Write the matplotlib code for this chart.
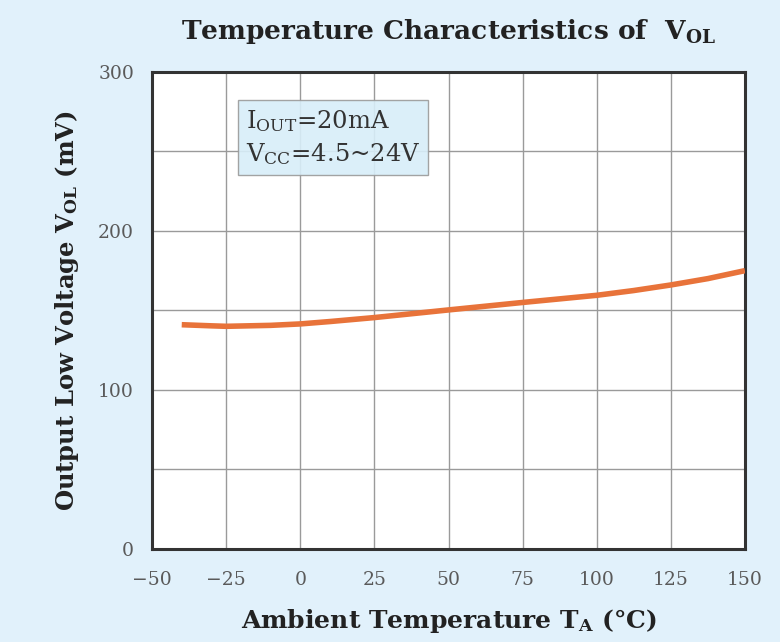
import matplotlib
matplotlib.use("Agg")
import matplotlib.pyplot as plt
import numpy as np

plt.rcParams['font.family'] = ['DejaVu Serif']
plt.rcParams['mathtext.fontset'] = 'dejavuserif'

# data
temp = [-40, -30, -25, -10, 0, 10, 25, 50, 75, 100, 112.5, 125, 137.5, 150]
vol = [141, 140.3, 140, 140.6, 141.5, 143, 145.5, 150.3, 155, 159.5, 162.5, 166, 170, 175]

xticks = [-50, -25, 0, 25, 50, 75, 100, 125, 150]
yticks = [0, 100, 200, 300]

bg = '#e1f1fb'
fig = plt.figure(figsize=(7.8, 6.42), dpi=100, facecolor=bg)
ax = fig.add_axes([0.195, 0.145, 0.76, 0.743])
ax.set_facecolor('white')

ax.plot(temp, vol, color='#e8733a', lw=4, solid_capstyle='butt', zorder=3)

ax.set_xlim(-50, 150)
ax.set_ylim(0, 300)
ax.set_xticks(xticks)
ax.set_xticklabels([str(t).replace('-', '\u2212') for t in xticks])
ax.set_yticks(yticks)
ax.set_yticks(np.arange(0, 301, 50), minor=True)
ax.grid(True, which='both', color='#9a9a9a', lw=1)
ax.tick_params(which='both', length=0)
ax.tick_params(axis='x', pad=16, labelsize=13.5, labelcolor='#5a5a5a')
ax.tick_params(axis='y', pad=13, labelsize=13.5, labelcolor='#5a5a5a')
for s in ax.spines.values():
    s.set_linewidth(2.2)
    s.set_color('#333333')

ax.set_xlabel(r'Ambient Temperature T$_{\mathbf{A}}$ (°C)', fontsize=18,
              fontweight='bold', color='#222222', labelpad=13)
ax.set_ylabel(r'Output Low Voltage V$_{\mathbf{OL}}$ (mV)', fontsize=17.5,
              fontweight='bold', color='#222222', labelpad=12)
ax.set_title(r'Temperature Characteristics of  V$_{\mathbf{OL}}$', fontsize=19,
             fontweight='bold', color='#222222', pad=24)

ax.text(0.158, 0.925,
        'I$_{\\mathrm{OUT}}$=20mA\nV$_{\\mathrm{CC}}$=4.5~24V',
        transform=ax.transAxes, fontsize=17.5, color='#333333', va='top',
        linespacing=1.4,
        bbox=dict(boxstyle='square,pad=0.3', fc='#d8eef9', ec='#9a9a9a',
                  alpha=0.9, lw=1))

fig.savefig('out.png', dpi=100, facecolor=bg)
